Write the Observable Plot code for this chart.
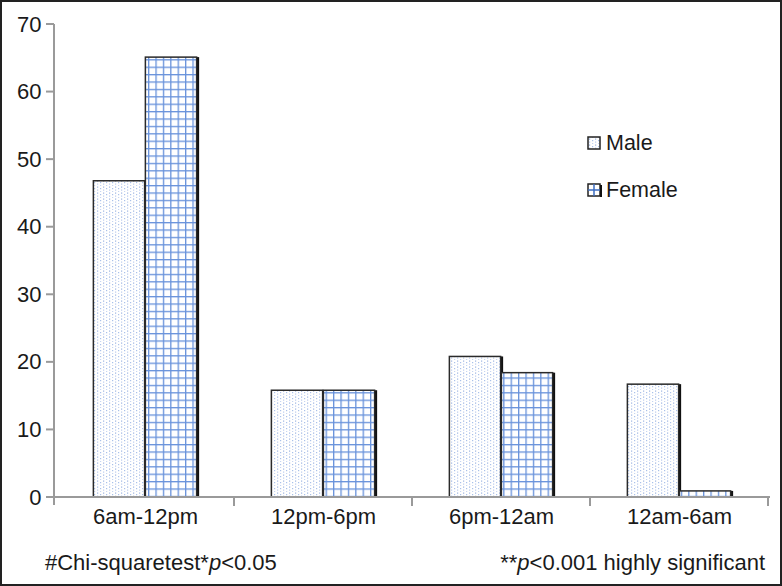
<!DOCTYPE html>
<html>
<head>
<meta charset="utf-8">
<script src="https://cdn.jsdelivr.net/npm/d3@7"></script>
<script src="https://cdn.jsdelivr.net/npm/@observablehq/plot@0.6"></script>
<style>
  html, body { margin: 0; padding: 0; background: #fff; }
  #chart svg { display: block; font-family: "Liberation Sans", Arial, sans-serif; }
</style>
</head>
<body>
<svg width="0" height="0" style="position:absolute">
  <defs>
    <pattern id="malePat" patternUnits="userSpaceOnUse" width="6" height="6">
      <rect width="6" height="6" fill="#ffffff"/>
      <rect x="1" y="0.5" width="1.2" height="1.2" fill="#9bb4e2"/>
      <rect x="1" y="3.5" width="1.2" height="1.2" fill="#b9cbee"/>
      <rect x="4" y="2" width="1.2" height="1.2" fill="#a9c0ea"/>
      <rect x="4" y="5" width="1.2" height="1" fill="#c6d5f1"/>
    </pattern>
    <pattern id="femalePat" patternUnits="userSpaceOnUse" width="7.4" height="7.4">
      <rect width="7.4" height="7.4" fill="#ffffff"/>
      <rect x="0" y="0" width="1.3" height="7.4" fill="#6892db"/>
      <rect x="0" y="0" width="7.4" height="1.3" fill="#6892db"/>
    </pattern>
  </defs>
</svg>
<div id="chart"></div>
<script>
const categories = ["6am-12pm", "12pm-6pm", "6pm-12am", "12am-6am"];
const series = ["Male", "Female"];
const maleValues = [46.8, 15.8, 20.8, 16.7];
const femaleValues = [65.1, 15.8, 18.4, 0.9];
const yTicks = [0, 10, 20, 30, 40, 50, 60, 70];
const footLeft = ["#Chi-squaretest*", "p", "<0.05"];
const footRight = ["**", "p", "<0.001 highly significant"];

const maleData = categories.map((c, i) => ({cat: c, sex: "Male", v: maleValues[i]}));
const femaleData = categories.map((c, i) => ({cat: c, sex: "Female", v: femaleValues[i]}));

const W = 782, H = 586;
const mL = 54, mR = 13, mT = 24, mB = 89;
const band = (W - mL - mR) / categories.length;
const barW = 52;
const outer = (band - 2 * barW) / 2;
const FS = 22;

const maleInset = {insetLeft: outer, insetRight: band - outer - barW};
const femaleInset = {insetLeft: outer + barW, insetRight: outer};

const chart = Plot.plot({
  width: W,
  height: H,
  marginLeft: mL,
  marginRight: mR,
  marginTop: mT,
  marginBottom: mB,
  x: {domain: categories, padding: 0, axis: null},
  y: {domain: [0, 70], axis: null},
  style: {fontFamily: "Liberation Sans, Arial, sans-serif", background: "#fff"},
  marks: [
    // right-edge shadows
    Plot.barY(maleData, {x: "cat", y: "v", fill: "#111", dx: 2.5, ...maleInset}),
    Plot.barY(femaleData, {x: "cat", y: "v", fill: "#111", dx: 2.5, ...femaleInset}),
    // patterned bars
    Plot.barY(maleData, {x: "cat", y: "v", fill: "url(#malePat)", stroke: "#2a2a2a", strokeWidth: 1.5, ...maleInset}),
    Plot.barY(femaleData, {x: "cat", y: "v", fill: "url(#femalePat)", stroke: "#2a2a2a", strokeWidth: 1.5, ...femaleInset}),
    // y tick labels
    Plot.text(yTicks, {y: d => d, text: d => String(d), frameAnchor: "left", textAnchor: "end", dx: -13, fontSize: FS, fill: "#1a1a1a"}),
    // x labels
    Plot.text(categories, {x: d => d, text: d => d, frameAnchor: "bottom", dy: 26, fontSize: FS, fill: "#1a1a1a"})
  ]
});

const svg = d3.select(chart);
const ys = chart.scale("y");
const xs = chart.scale("x");
const y0 = ys.apply(0);
const yTop = ys.apply(70);
const axisColor = "#9a9a9a";
const g = svg.append("g");

// y axis line and ticks
g.append("line").attr("x1", mL).attr("x2", mL).attr("y1", yTop).attr("y2", y0 + 8)
  .attr("stroke", axisColor).attr("stroke-width", 2);
yTicks.forEach(t => {
  g.append("line").attr("x1", mL - 8).attr("x2", mL).attr("y1", ys.apply(t)).attr("y2", ys.apply(t))
    .attr("stroke", axisColor).attr("stroke-width", 2);
});
// x axis line and boundary ticks
const xEnd = xs.apply(categories[categories.length - 1]) + xs.bandwidth;
g.append("line").attr("x1", mL).attr("x2", xEnd + 2).attr("y1", y0).attr("y2", y0)
  .attr("stroke", axisColor).attr("stroke-width", 2);
categories.forEach(c => {
  const xb = xs.apply(c) + xs.bandwidth;
  g.append("line").attr("x1", xb).attr("x2", xb).attr("y1", y0).attr("y2", y0 + 9)
    .attr("stroke", axisColor).attr("stroke-width", 2);
});

// legend
const lg = svg.append("g").attr("font-family", "Liberation Sans, Arial, sans-serif").attr("text-anchor", "start");
series.forEach((s, i) => {
  const ly = 137 + i * 47;
  const lx = 588;
  if (s === "Male") {
    lg.append("rect").attr("x", lx).attr("y", ly).attr("width", 12).attr("height", 12)
      .attr("fill", "url(#malePat)").attr("stroke", "#222").attr("stroke-width", 1.5);
  } else {
    lg.append("rect").attr("x", lx).attr("y", ly).attr("width", 12).attr("height", 12)
      .attr("fill", "#fff").attr("stroke", "#222").attr("stroke-width", 1.5);
    lg.append("line").attr("x1", lx + 6).attr("x2", lx + 6).attr("y1", ly).attr("y2", ly + 12).attr("stroke", "#3d6cc0").attr("stroke-width", 1.5);
    lg.append("line").attr("x1", lx).attr("x2", lx + 12).attr("y1", ly + 6).attr("y2", ly + 6).attr("stroke", "#3d6cc0").attr("stroke-width", 1.5);
    lg.append("line").attr("x1", lx + 13).attr("x2", lx + 13).attr("y1", ly + 1).attr("y2", ly + 13).attr("stroke", "#111").attr("stroke-width", 2);
  }
  lg.append("text").attr("x", lx + 18).attr("y", ly + 13).attr("font-size", 21.5).attr("fill", "#1a1a1a").text(s);
});

// footnotes
const fl = svg.append("text").attr("x", 45).attr("y", 570).attr("text-anchor", "start").attr("font-size", FS).attr("fill", "#1a1a1a")
  .attr("font-family", "Liberation Sans, Arial, sans-serif");
footLeft.forEach((t, i) => fl.append("tspan").attr("font-style", i === 1 ? "italic" : "normal").text(t));
const fr = svg.append("text").attr("x", 765).attr("y", 570).attr("text-anchor", "end").attr("font-size", FS).attr("fill", "#1a1a1a")
  .attr("font-family", "Liberation Sans, Arial, sans-serif");
footRight.forEach((t, i) => fr.append("tspan").attr("font-style", i === 1 ? "italic" : "normal").text(t));

// outer border
svg.append("rect").attr("x", 1).attr("y", 1).attr("width", W - 2).attr("height", H - 2)
  .attr("fill", "none").attr("stroke", "#222").attr("stroke-width", 2);

document.getElementById("chart").appendChild(chart);
</script>
</body>
</html>
